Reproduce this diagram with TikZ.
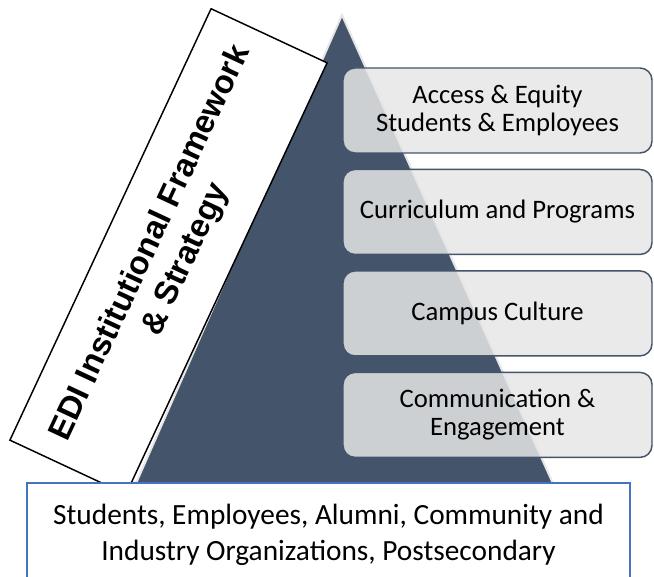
\documentclass[tikz,border=0pt]{standalone}
\usepackage{fontspec}
\setmainfont{Carlito}
\newfontfamily\arialfont{Liberation Sans}
\usepackage{xcolor}
\definecolor{pizarra}{HTML}{44546A}
\definecolor{grisclaro}{HTML}{E7E6E6}
\definecolor{grisbloque}{HTML}{E6E6E6}
\definecolor{azulborde}{HTML}{4472C4}
\usetikzlibrary{positioning}

\begin{document}
\begin{tikzpicture}[
  x=0.75pt, y=-0.75pt,
  node distance=11.25pt,
  nivel/.style={
    rectangle, rounded corners=9pt,
    fill=grisbloque, fill opacity=0.85, text opacity=1,
    draw=pizarra, line width=1.1pt,
    font=\fontsize{20}{21}\selectfont, align=center,
    minimum width=231.75pt, minimum height=63.75pt,
    inner sep=0pt
  },
  marco/.style={
    rectangle, fill=white, draw=black, line width=1.1pt,
    font=\arialfont\bfseries\fontsize{24.5}{29}\selectfont, align=center,
    minimum width=357pt, minimum height=96pt, inner sep=0pt
  },
  base/.style={
    rectangle, fill=white, draw=azulborde, line width=1.4pt,
    font=\fontsize{22}{27}\selectfont, align=center,
    minimum width=452.25pt, minimum height=78pt, inner sep=0pt
  }
]
  \useasboundingbox (0,0) rectangle (654,577);
  \clip (0,0) rectangle (654,577);

  % piramide de fondo
  \draw[fill=pizarra, draw=grisclaro, line width=1.5pt]
    (342,15) -- (555,488) -- (134,488) -- cycle;

  % marco institucional inclinado
  \node[marco, rotate=65] (edi) at (168.5,251.5)
    {EDI Institutional Framework\\ \& Strategy};

  % niveles de la derecha
  \node[nivel] (acceso) at (497.5,110.5) {Access \& Equity\\Students \& Employees};
  \node[nivel, below=of acceso]  (curriculo) {Curriculum and Programs};
  \node[nivel, below=of curriculo] (cultura) {Campus Culture};
  \node[nivel, below=of cultura]   (comunica) {Communication \&\\Engagement};

  % comunidad en la base
  \node[base] (comunidad) at (328.5,535)
    {Students, Employees, Alumni, Community and\\Industry Organizations, Postsecondary};
\end{tikzpicture}
\end{document}
